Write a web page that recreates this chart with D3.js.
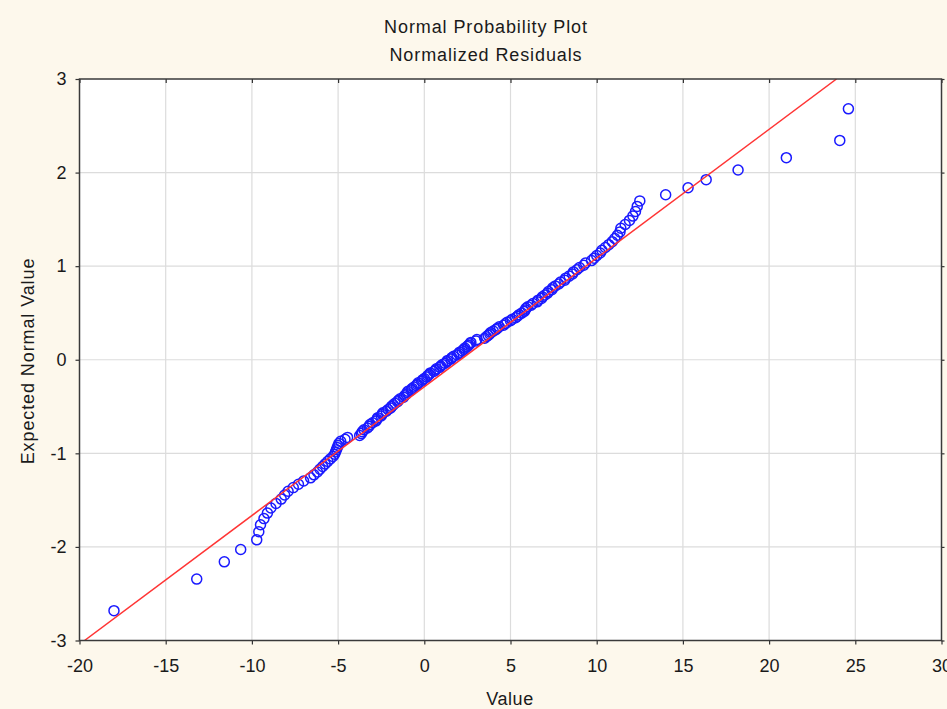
<!DOCTYPE html>
<html>
<head>
<meta charset="utf-8">
<script src="https://cdn.jsdelivr.net/npm/d3@7"></script>
<style>
  html, body { margin: 0; padding: 0; background: #fdf8ec; }
  svg { display: block; }
  text { font-family: "Liberation Sans", Arial, sans-serif; fill: #1a1a1a; }
</style>
</head>
<body>
<svg id="chart" width="947" height="709"></svg>
<script>
// ---- data: sorted normalized residual values ----
const residualValues = [
  -18.0, -13.2, -11.6, -10.65, -9.72, -9.6, -9.5, -9.3, -9.1, -8.9,
  -8.6, -8.3, -8.1, -7.9, -7.6, -7.3, -7.0, -6.6, -6.4, -6.2,
  -6.05, -5.9, -5.75, -5.6, -5.45, -5.3, -5.2, -5.15, -5.1, -5.05,
  -5.0, -4.95, -4.85, -4.6, -4.45, -3.75, -3.65, -3.6, -3.5, -3.3,
  -3.2, -3.15, -3.0, -2.8, -2.75, -2.7, -2.5, -2.45, -2.4, -2.2,
  -2.1, -1.95, -1.9, -1.8, -1.7, -1.55, -1.5, -1.4, -1.2, -1.15,
  -1.05, -1.0, -0.95, -0.75, -0.7, -0.6, -0.45, -0.4, -0.35, -0.15,
  -0.1, 0.0, 0.15, 0.2, 0.3, 0.35, 0.55, 0.65, 0.7, 0.9,
  0.95, 1.05, 1.2, 1.3, 1.35, 1.55, 1.6, 1.7, 1.9, 2.0,
  2.05, 2.2, 2.3, 2.35, 2.5, 2.55, 2.65, 2.7, 3.0, 3.05,
  3.5, 3.6, 3.7, 3.8, 3.85, 4.0, 4.15, 4.25, 4.35, 4.6,
  4.7, 4.8, 5.0, 5.1, 5.3, 5.4, 5.5, 5.65, 5.8, 5.85,
  5.9, 6.0, 6.2, 6.3, 6.55, 6.6, 6.8, 6.85, 7.0, 7.15,
  7.2, 7.4, 7.45, 7.6, 7.8, 7.9, 8.15, 8.2, 8.4, 8.6,
  8.65, 8.85, 9.0, 9.25, 9.35, 9.7, 9.85, 10.0, 10.2, 10.3,
  10.5, 10.7, 10.9, 11.05, 11.2, 11.35, 11.4, 11.65, 11.9, 12.1,
  12.25, 12.35, 12.5, 14.0, 15.3, 16.35, 18.2, 21.0, 24.1, 24.6
];
// reference line (value at expected normal value 0, and value change per unit)
const lineIntercept = 2.1;
const lineSlope = 7.27;

const xTicks = [-20, -15, -10, -5, 0, 5, 10, 15, 20, 25, 30];
const yTicks = [-3, -2, -1, 0, 1, 2, 3];
const titleLines = ["Normal Probability Plot", "Normalized Residuals"];
const xLabel = "Value";
const yLabel = "Expected Normal Value";

// inverse standard normal CDF (Acklam)
function invNorm(p) {
  const a = [-3.969683028665376e+01, 2.209460984245205e+02, -2.759285104469687e+02, 1.383577518672690e+02, -3.066479806614716e+01, 2.506628277459239e+00];
  const b = [-5.447609879822406e+01, 1.615858368580409e+02, -1.556989798598866e+02, 6.680131188771972e+01, -1.328068155288572e+01];
  const c = [-7.784894002430293e-03, -3.223964580411365e-01, -2.400758277161838e+00, -2.549732539343734e+00, 4.374664141464968e+00, 2.938163982698783e+00];
  const d = [7.784695709041462e-03, 3.224671290700398e-01, 2.445134137142996e+00, 3.754408661907416e+00];
  const pl = 0.02425, ph = 1 - pl;
  let q, r;
  if (p < pl) { q = Math.sqrt(-2 * Math.log(p)); return (((((c[0]*q+c[1])*q+c[2])*q+c[3])*q+c[4])*q+c[5]) / ((((d[0]*q+d[1])*q+d[2])*q+d[3])*q+1); }
  if (p <= ph) { q = p - 0.5; r = q*q; return (((((a[0]*r+a[1])*r+a[2])*r+a[3])*r+a[4])*r+a[5])*q / (((((b[0]*r+b[1])*r+b[2])*r+b[3])*r+b[4])*r+1); }
  q = Math.sqrt(-2 * Math.log(1 - p)); return -(((((c[0]*q+c[1])*q+c[2])*q+c[3])*q+c[4])*q+c[5]) / ((((d[0]*q+d[1])*q+d[2])*q+d[3])*q+1);
}

const sorted = residualValues.slice().sort(d3.ascending);
const n = sorted.length;
const points = sorted.map((v, i) => ({ v, z: invNorm((i + 1 - 0.375) / (n + 0.25)) }));

const svg = d3.select("#chart");
const W = 947, H = 709;
const plot = { left: 79.5, right: 941.5, top: 79, bottom: 640.5 };

const x = d3.scaleLinear().domain([-20, 30]).range([plot.left, plot.right]);
const y = d3.scaleLinear().domain([-3, 3]).range([plot.bottom, plot.top]);

svg.append("rect").attr("width", W).attr("height", H).attr("fill", "#fdf8ec");
svg.append("rect")
  .attr("x", plot.left).attr("y", plot.top)
  .attr("width", plot.right - plot.left).attr("height", plot.bottom - plot.top)
  .attr("fill", "#ffffff");

// gridlines
const grid = svg.append("g").attr("stroke", "#dcdcdc").attr("stroke-width", 1.2);
grid.selectAll(".vx").data(xTicks.slice(1, -1)).join("line")
  .attr("x1", d => x(d)).attr("x2", d => x(d))
  .attr("y1", plot.top).attr("y2", plot.bottom);
grid.selectAll(".hy").data(yTicks.slice(1, -1)).join("line")
  .attr("y1", d => y(d)).attr("y2", d => y(d))
  .attr("x1", plot.left).attr("x2", plot.right);

// clip
svg.append("clipPath").attr("id", "clip").append("rect")
  .attr("x", plot.left).attr("y", plot.top)
  .attr("width", plot.right - plot.left).attr("height", plot.bottom - plot.top);

// points
svg.append("g").selectAll("circle").data(points).join("circle")
  .attr("cx", d => x(d.v)).attr("cy", d => y(d.z)).attr("r", 5)
  .attr("fill", "none").attr("stroke", "#1a1aff").attr("stroke-width", 1.5);

// reference line
const lineZ = [-3, 3];
svg.append("path")
  .attr("clip-path", "url(#clip)")
  .attr("d", d3.line().x(z => x(lineIntercept + lineSlope * z)).y(z => y(z))(lineZ))
  .attr("fill", "none").attr("stroke", "#ff3535").attr("stroke-width", 1.5);

// axes
const fmt = d => String(d);
const axBottom = svg.append("g").attr("transform", `translate(0,${plot.bottom})`)
  .call(d3.axisBottom(x).tickValues(xTicks).tickFormat(fmt).tickSize(4).tickPadding(10));
const axLeft = svg.append("g").attr("transform", `translate(${plot.left},0)`)
  .call(d3.axisLeft(y).tickValues(yTicks).tickFormat(fmt).tickSize(4).tickPadding(8));
const axTop = svg.append("g").attr("transform", `translate(0,${plot.top})`)
  .call(d3.axisTop(x).tickValues(xTicks).tickSize(-4).tickFormat(""));
const axRight = svg.append("g").attr("transform", `translate(${plot.right},0)`)
  .call(d3.axisRight(y).tickValues(yTicks).tickSize(3).tickFormat(""));
[axBottom, axLeft, axTop, axRight].forEach(g => {
  g.select(".domain").remove();
  g.selectAll(".tick line").attr("stroke", "#333").attr("stroke-width", 1.2);
  g.selectAll("text").style("font-family", '"Liberation Sans", Arial, sans-serif')
    .style("font-size", "18px").attr("fill", "#1a1a1a");
});
axBottom.selectAll("text").attr("dy", "0.95em");
axLeft.selectAll("text").attr("dx", "-1");

// frame
svg.append("rect")
  .attr("x", plot.left).attr("y", plot.top)
  .attr("width", plot.right - plot.left).attr("height", plot.bottom - plot.top)
  .attr("fill", "none").attr("stroke", "#3a3a3a").attr("stroke-width", 1.5);

// titles
svg.selectAll(".title").data(titleLines).join("text")
  .attr("x", 486).attr("y", (d, i) => 33 + i * 28)
  .attr("text-anchor", "middle")
  .style("font-size", "18px").style("letter-spacing", "0.9px")
  .text(d => d);

svg.append("text").attr("x", 510).attr("y", 705)
  .attr("text-anchor", "middle").style("font-size", "18px").style("letter-spacing", "0.6px")
  .text(xLabel);

svg.append("text")
  .attr("transform", `translate(34,361) rotate(-90)`)
  .attr("text-anchor", "middle").style("font-size", "18px").style("letter-spacing", "0.9px")
  .text(yLabel);
</script>
</body>
</html>
